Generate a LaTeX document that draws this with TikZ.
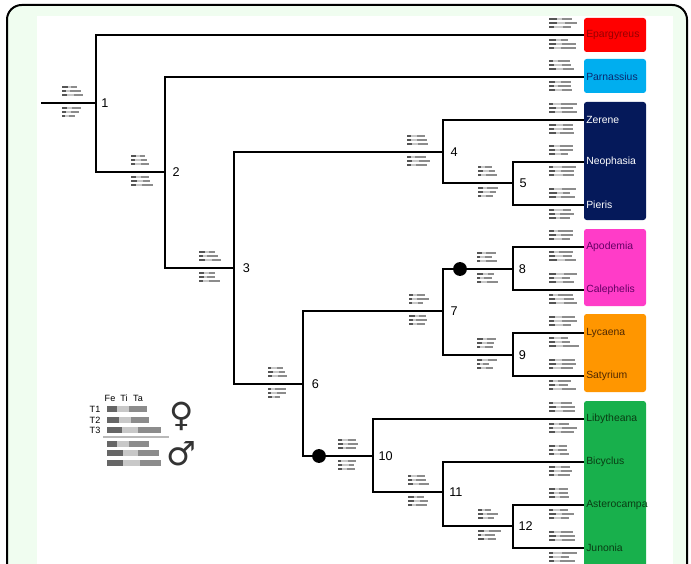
\documentclass[tikz,border=0pt]{standalone}
\usepackage{fontspec}
\setmainfont{Liberation Sans}
\newfontfamily\symfont{DejaVu Sans}
\pgfdeclarelayer{background}
\pgfsetlayers{background,main}
\definecolor{bgg}{RGB}{240,253,240}
\definecolor{cred}{RGB}{255,0,0}
\definecolor{cblue}{RGB}{0,174,239}
\definecolor{cnavy}{RGB}{5,25,90}
\definecolor{cpink}{RGB}{255,60,200}
\definecolor{corange}{RGB}{255,150,0}
\definecolor{cgreen}{RGB}{24,176,76}
\definecolor{gd}{RGB}{85,85,85}
\definecolor{gm}{RGB}{140,140,140}
\definecolor{gl}{RGB}{200,200,200}
\newcommand\lgs[3]{%
 \foreach \dy in {-17,-13,-9,4,8,12}{%
   \pgfmathsetmacro\lgA{(3+3*rnd)*#3}%
   \pgfmathsetmacro\lgB{(3+4*rnd)*#3}%
   \pgfmathsetmacro\lgC{(5+7*rnd)*#3}%
   \fill[gd] (#1,#2+\dy) rectangle ++(\lgA,2.4);
   \fill[gl] (#1+\lgA,#2+\dy) rectangle ++(\lgB,2.4);
   \fill[gm] (#1+\lgA+\lgB,#2+\dy) rectangle ++(\lgC,2.4);
 }}
\newcommand\legbar[5]{% x y a b c
  \fill[gd!90] (#1,#2) rectangle ++(#3,6);
  \fill[gl] (#1+#3,#2) rectangle ++(#4,6);
  \fill[gm] (#1+#3+#4,#2) rectangle ++(#5,6);}
\begin{document}
\begin{tikzpicture}[x=0.75pt,y=-0.75pt,
  br/.style={line width=1.5pt},
  num/.style={anchor=west,inner sep=0pt,font=\fontsize{9.5}{9.5}\selectfont},
  leaf/.style={anchor=west,inner sep=0pt,font=\fontsize{7.8}{8}\selectfont},
  dot/.style={fill=black},
  lgt/.style={inner sep=0pt,font=\fontsize{6.8}{7}\selectfont}]
\pgfmathsetseed{7}
\useasboundingbox (0,0) rectangle (691,563);
\begin{pgfonlayer}{background}
\begin{scope}
\clip (0,0) rectangle (691,563);
\draw[line width=1.5pt, fill=bgg, rounded corners=11pt] (7,5) rectangle (687,640);
\fill[white] (37,16) rectangle (673,640);
\fill[cred, rounded corners=2pt] (584,18) rectangle (646,52);
\fill[cblue, rounded corners=2pt] (584,59) rectangle (646,93);
\fill[cnavy, rounded corners=2pt] (584,102) rectangle (646,220);
\fill[cpink, rounded corners=2pt] (584,229) rectangle (646,306);
\fill[corange, rounded corners=2pt] (584,314) rectangle (646,392);
\fill[cgreen, rounded corners=2pt] (584,401) rectangle (646,660);
\end{scope}
\end{pgfonlayer}

% leaf names
\node[leaf, text={rgb,255:red,150;green,0;blue,0}] (epa) at (586,35) {Epargyreus};
\node[leaf, text={rgb,255:red,10;green,40;blue,110}] (par) at (586,77) {Parnassius};
\node[leaf, text=white] (zer) at (586,120) {Zerene};
\node[leaf, text=white] (neo) at (586,162) {Neophasia};
\node[leaf, text=white] (pie) at (586,205) {Pieris};
\node[leaf, text={rgb,255:red,100;green,0;blue,100}] (apo) at (586,247) {Apodemia};
\node[leaf, text={rgb,255:red,100;green,0;blue,100}] (cal) at (586,290) {Calephelis};
\node[leaf, text={rgb,255:red,80;green,40;blue,0}] (lyc) at (586,333) {Lycaena};
\node[leaf, text={rgb,255:red,80;green,40;blue,0}] (sat) at (586,376) {Satyrium};
\node[leaf, text={rgb,255:red,10;green,60;blue,20}] (lib) at (586,419) {Libytheana};
\node[leaf, text={rgb,255:red,10;green,60;blue,20}] (bic) at (586,462) {Bicyclus};
\node[leaf, text={rgb,255:red,10;green,60;blue,20}] (ast) at (586,505) {Asterocampa};
\node[leaf, text={rgb,255:red,10;green,60;blue,20}] (jun) at (586,548) {Junonia};

% internal nodes
\coordinate (root) at (41,103);
\coordinate (n1) at (96,103);
\coordinate (n2) at (165,172);
\coordinate (n3) at (234,268);
\coordinate (n4) at (443,152);
\coordinate (n5) at (513,183);
\coordinate (n6) at (303,384);
\coordinate (n7) at (443,311);
\coordinate (n8) at (513,269);
\coordinate (n9) at (513,355);
\coordinate (n10) at (373,456);
\coordinate (n11) at (443,492);
\coordinate (n12) at (513,526);

% glyphs
\lgs{62}{103}{1}
\lgs{131}{172}{1}
\lgs{199}{268}{1}
\lgs{407}{152}{1}
\lgs{478}{183}{1}
\lgs{268}{384}{1}
\lgs{409}{311}{1}
\lgs{477}{269}{1}
\lgs{477}{355}{1}
\lgs{338}{456}{1}
\lgs{408}{492}{1}
\lgs{478}{526}{1}
\foreach \yy in {35,77,120,162,205,247,290,333,376,419,462,505,548}{\lgs{549}{\yy}{1.3}}

% tree
\begin{scope}[br, shorten >=1.5pt]
\draw (n1) |- (epa.west);
\draw (n2) |- (par.west);
\draw (n4) |- (zer.west);
\draw (n5) |- (neo.west);
\draw (n5) |- (pie.west);
\draw (n8) |- (apo.west);
\draw (n8) |- (cal.west);
\draw (n9) |- (lyc.west);
\draw (n9) |- (sat.west);
\draw (n10) |- (lib.west);
\draw (n11) |- (bic.west);
\draw (n12) |- (ast.west);
\draw (n12) |- (jun.west);
\end{scope}
\begin{scope}[br]
\draw (root) -- (n1);
\draw (n1) |- (n2);
\draw (n2) |- (n3);
\draw (n3) |- (n4);
\draw (n4) |- (n5);
\draw (n3) |- (n6);
\draw (n6) |- (n7);
\draw (n7) |- (n8);
\draw (n7) |- (n9);
\draw (n6) |- (n10);
\draw (n10) |- (n11);
\draw (n11) |- (n12);
\end{scope}
\fill[dot] (460,269) circle[radius=5.2pt];
\fill[dot] (319,456) circle[radius=5.2pt];

% numbers
\node[num] (l1) at ([xshift=3.8pt]n1) {1};
\node[num] (l2) at ([xshift=5.5pt]n2) {2};
\node[num] (l3) at ([xshift=6.5pt]n3) {3};
\node[num] (l4) at ([xshift=5.5pt]n4) {4};
\node[num] (l5) at ([xshift=4.8pt]n5) {5};
\node[num] (l6) at ([xshift=6.5pt]n6) {6};
\node[num] (l7) at ([xshift=5.5pt]n7) {7};
\node[num] (l8) at ([xshift=4.2pt]n8) {8};
\node[num] (l9) at ([xshift=4.2pt]n9) {9};
\node[num] (l10) at ([xshift=4pt]n10) {10};
\node[num] (l11) at ([xshift=4.5pt]n11) {11};
\node[num] (l12) at ([xshift=4pt]n12) {12};

% legend
\node[lgt] (fe) at (110,398) {Fe};
\node[lgt] (ti) at (124,398) {Ti};
\node[lgt] (ta) at (138,398) {Ta};
\node[lgt] (t1) at (95,409) {T1};
\node[lgt] (t2) at (95,420) {T2};
\node[lgt] (t3) at (95,430) {T3};
\legbar{107}{406}{10}{12}{18}
\legbar{107}{417}{12}{12}{18}
\legbar{107}{427}{15}{16}{23}
\draw[gl!80!gray, line width=1pt] (103,437) -- (169,437);
\legbar{107}{441}{10}{12}{20}
\legbar{107}{450}{16}{15}{21}
\legbar{107}{460}{16}{17}{21}
\node[inner sep=0pt, font=\symfont\fontsize{25}{25}\selectfont, text=black!80] (fem) at (182,416) {♀};
\node[inner sep=0pt, font=\symfont\fontsize{25}{25}\selectfont, text=black!80] (mal) at (181,454) {♂};
\end{tikzpicture}
\end{document}
